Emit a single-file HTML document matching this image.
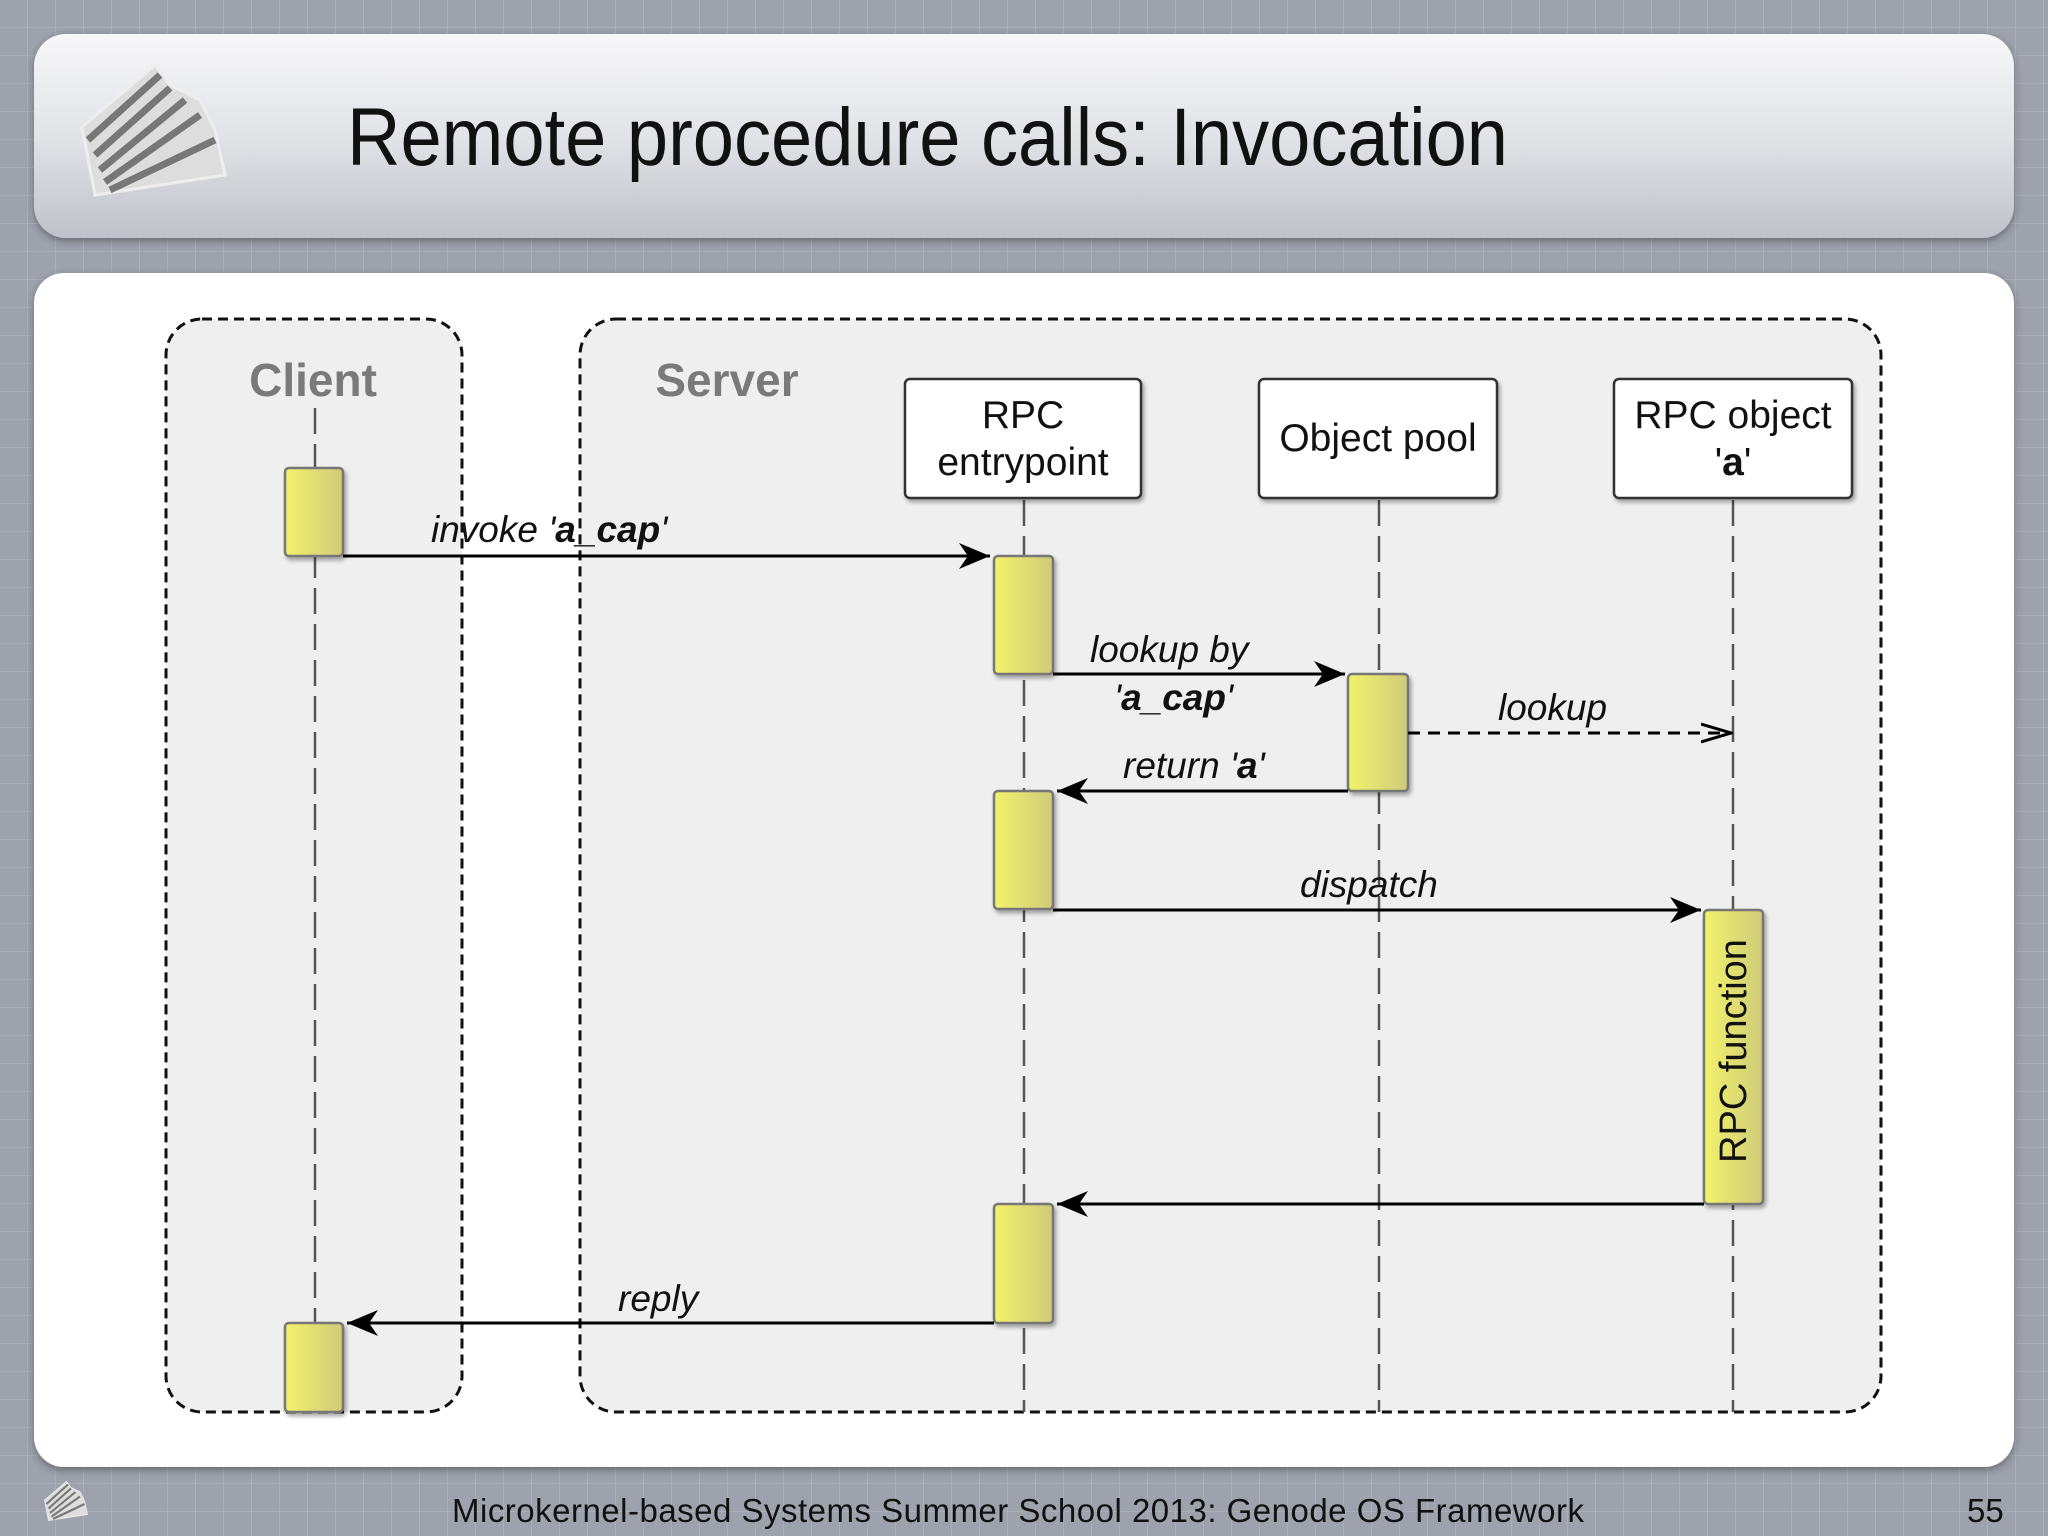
<!DOCTYPE html>
<html><head><meta charset="utf-8"><style>
html,body{margin:0;padding:0;}
body{width:2048px;height:1536px;overflow:hidden;background:#9ea2ac;}
svg{display:block}
</style></head><body>
<svg width="2048" height="1536" viewBox="0 0 2048 1536" xmlns="http://www.w3.org/2000/svg" font-family="Liberation Sans, sans-serif">
<defs>
<pattern id="grid" width="28" height="28" patternUnits="userSpaceOnUse">
<path d="M28 0V28M0 28H28" stroke="#aeb2bb" stroke-width="1.5" fill="none"/>
</pattern>
<linearGradient id="hg" x1="0" y1="0" x2="0" y2="1">
<stop offset="0" stop-color="#f7f7f9"/><stop offset="0.5" stop-color="#e2e3e7"/><stop offset="1" stop-color="#bfc2ca"/>
</linearGradient>
<linearGradient id="yg" x1="0" y1="0" x2="1" y2="0">
<stop offset="0" stop-color="#f2f26a"/><stop offset="1" stop-color="#cfcb7a"/>
</linearGradient>
<filter id="sh" x="-5%" y="-5%" width="110%" height="115%"><feDropShadow dx="0" dy="3" stdDeviation="4" flood-color="#333" flood-opacity="0.5"/></filter>
<filter id="sh2" x="-10%" y="-10%" width="125%" height="125%"><feDropShadow dx="2" dy="3" stdDeviation="2" flood-color="#000" flood-opacity="0.35"/></filter>
<marker id="ah" markerWidth="32" markerHeight="26" refX="31" refY="13" orient="auto" markerUnits="userSpaceOnUse">
<path d="M0 0 L31 13 L0 26 L9 13 Z" fill="#000"/></marker>
<marker id="ao" markerWidth="32" markerHeight="22" refX="30" refY="11" orient="auto" markerUnits="userSpaceOnUse">
<path d="M0 2 L30 11 L0 20" fill="none" stroke="#000" stroke-width="3"/></marker>
</defs>
<rect width="2048" height="1536" fill="#9ea2ac"/>
<rect width="2048" height="1536" fill="url(#grid)"/>
<!-- header -->
<rect x="34" y="34" width="1980" height="204" rx="32" fill="url(#hg)" filter="url(#sh)"/>
<g fill="#8a8a8a" stroke="#eee" stroke-width="3">
<path d="M82 127 L155 65 L170 85 L200 100 L215 130 L225 175 L95 195 Z" fill="#ddd"/>
<path d="M88 140 L160 75 M95 155 L170 88 M100 170 L185 100 M105 182 L200 115 M110 190 L215 140" stroke="#777" stroke-width="7"/>
</g>
<text x="347" y="165" font-size="82" fill="#111" textLength="1161" lengthAdjust="spacingAndGlyphs">Remote procedure calls: Invocation</text>
<!-- body -->
<rect x="34" y="273" width="1980" height="1194" rx="30" fill="#fff" filter="url(#sh)"/>
<!-- frames -->
<rect x="166" y="319" width="296" height="1093" rx="36" fill="#efefef" stroke="#111" stroke-width="3" stroke-dasharray="10 6"/>
<rect x="580" y="319" width="1301" height="1093" rx="36" fill="#efefef" stroke="#111" stroke-width="3" stroke-dasharray="10 6"/>
<text x="313" y="396" font-size="46" font-weight="bold" fill="#7a7a7a" text-anchor="middle">Client</text>
<text x="727" y="396" font-size="46" font-weight="bold" fill="#7a7a7a" text-anchor="middle">Server</text>
<!-- lifelines -->
<g stroke="#555" stroke-width="2.5" stroke-dasharray="26 10">
<line x1="315" y1="408" x2="315" y2="1412"/>
<line x1="1024" y1="500" x2="1024" y2="1412"/>
<line x1="1379" y1="500" x2="1379" y2="1412"/>
<line x1="1733" y1="500" x2="1733" y2="1412"/>
</g>
<!-- head boxes -->
<g fill="#fff" stroke="#333" stroke-width="2.5" filter="url(#sh2)">
<rect x="905" y="379" width="236" height="119" rx="5"/>
<rect x="1259" y="379" width="238" height="119" rx="5"/>
<rect x="1614" y="379" width="238" height="119" rx="5"/>
</g>
<g font-size="39" fill="#111" text-anchor="middle">
<text x="1023" y="428">RPC</text>
<text x="1023" y="475">entrypoint</text>
<text x="1378" y="451">Object pool</text>
<text x="1733" y="428">RPC object</text>
<text x="1733" y="475">'<tspan font-weight="bold">a</tspan>'</text>
</g>
<!-- activations -->
<g fill="url(#yg)" stroke="#777" stroke-width="2.5" filter="url(#sh2)">
<rect x="285" y="468" width="58" height="88" rx="4"/>
<rect x="994" y="556" width="59" height="118" rx="4"/>
<rect x="1348" y="674" width="60" height="117" rx="4"/>
<rect x="994" y="791" width="59" height="118" rx="4"/>
<rect x="1704" y="910" width="59" height="294" rx="4"/>
<rect x="994" y="1204" width="59" height="119" rx="4"/>
<rect x="285" y="1323" width="58" height="89" rx="4"/>
</g>
<text transform="translate(1746 1051) rotate(-90)" font-size="38" fill="#111" text-anchor="middle">RPC function</text>
<!-- arrows -->
<g stroke="#000" stroke-width="3" fill="none">
<line x1="343" y1="556" x2="990" y2="556" marker-end="url(#ah)"/>
<line x1="1053" y1="674" x2="1345" y2="674" marker-end="url(#ah)"/>
<line x1="1408" y1="733" x2="1731" y2="733" stroke-dasharray="12 8" marker-end="url(#ao)"/>
<line x1="1348" y1="791" x2="1057" y2="791" marker-end="url(#ah)"/>
<line x1="1053" y1="910" x2="1701" y2="910" marker-end="url(#ah)"/>
<line x1="1704" y1="1204" x2="1057" y2="1204" marker-end="url(#ah)"/>
<line x1="994" y1="1323" x2="347" y2="1323" marker-end="url(#ah)"/>
</g>
<g font-size="37" font-style="italic" fill="#111">
<text x="431" y="542">invoke '<tspan font-weight="bold">a_cap</tspan>'</text>
<text x="1090" y="662">lookup by</text>
<text x="1114" y="710">'<tspan font-weight="bold">a_cap</tspan>'</text>
<text x="1498" y="720">lookup</text>
<text x="1123" y="778">return '<tspan font-weight="bold">a</tspan>'</text>
<text x="1300" y="897">dispatch</text>
<text x="618" y="1311">reply</text>
</g>
<!-- footer -->
<g transform="translate(20 1462) scale(0.3)" fill="#888" stroke="#eee" stroke-width="3">
<path d="M82 127 L155 65 L170 85 L200 100 L215 130 L225 175 L95 195 Z" fill="#ddd"/>
<path d="M88 140 L160 75 M95 155 L170 88 M100 170 L185 100 M105 182 L200 115 M110 190 L215 140" stroke="#777" stroke-width="7"/>
</g>
<text x="452" y="1522" font-size="33" fill="#111" textLength="1132">Microkernel-based Systems  Summer School 2013:  Genode OS Framework</text>
<text x="1967" y="1522" font-size="33" fill="#111">55</text>
</svg>
</body></html>
